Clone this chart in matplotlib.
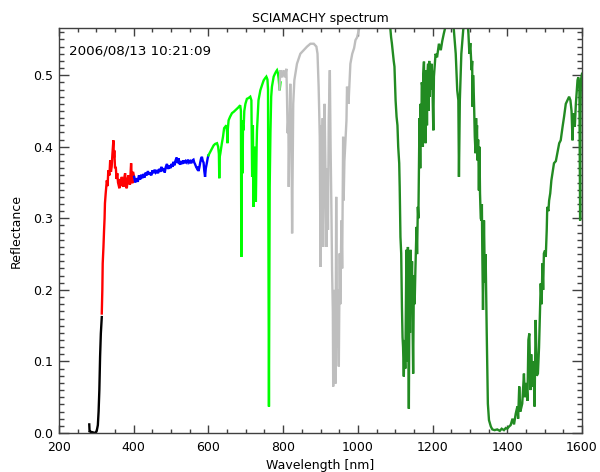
import matplotlib
matplotlib.use("Agg")
import matplotlib.pyplot as plt
from matplotlib.ticker import MultipleLocator, FormatStrFormatter

# ---- data ----
black_wl = [281, 282, 283, 290, 297, 301, 304, 306, 308, 310, 312, 314.5]
black_rf = [0.012, 0.001, 0.002, 0.001, 0.0, 0.003, 0.011, 0.03, 0.06, 0.107, 0.139, 0.162]

red_wl = [314.5, 316, 317, 319, 320.6, 322, 323, 325, 328, 330,
          332, 335, 337, 339, 341, 343, 345.6, 347, 348, 350,
          352, 354, 356, 358, 361.7, 364, 366, 368, 370, 372,
          374, 377, 379, 381.5, 384, 386, 388, 390, 393, 395,
          396.5, 398, 401]
red_rf = [0.167, 0.2, 0.237, 0.26, 0.283, 0.3, 0.321, 0.335, 0.353, 0.345,
          0.367, 0.36, 0.381, 0.365, 0.372, 0.39, 0.409, 0.385, 0.395, 0.37,
          0.372, 0.355, 0.363, 0.35, 0.342, 0.355, 0.345, 0.358, 0.35, 0.344,
          0.355, 0.363, 0.345, 0.342, 0.356, 0.36, 0.35, 0.347, 0.377, 0.355,
          0.349, 0.365, 0.358]

blue_wl = [401, 404, 408, 411, 414, 417, 420, 423, 426, 429,
           432, 435, 438, 441, 444, 447, 450, 453, 456, 459,
           462, 465, 468, 471, 474, 477, 480, 483, 486, 489,
           492, 495, 498, 501, 504, 506, 509, 512, 515, 518,
           520, 522, 524, 527, 530, 533, 536, 539, 542, 545,
           548, 551, 554, 557, 560, 562, 564, 567, 569, 571,
           573.5, 576, 578, 580, 582.5, 585, 587, 589, 591, 593,
           596, 598, 600]
blue_rf = [0.358, 0.350, 0.356, 0.351, 0.360, 0.354, 0.361, 0.356, 0.362, 0.357,
           0.364, 0.360, 0.366, 0.361, 0.364, 0.360, 0.367, 0.363, 0.368, 0.364,
           0.366, 0.363, 0.369, 0.365, 0.372, 0.366, 0.370, 0.364, 0.372, 0.376,
           0.369, 0.374, 0.370, 0.376, 0.372, 0.379, 0.374, 0.381, 0.385, 0.377,
           0.384, 0.378, 0.375, 0.380, 0.376, 0.381, 0.377, 0.380, 0.378, 0.382,
           0.378, 0.380, 0.377, 0.381, 0.382, 0.378, 0.376, 0.372, 0.370, 0.372,
           0.366, 0.372, 0.378, 0.383, 0.386, 0.380, 0.378, 0.366, 0.358, 0.370,
           0.378, 0.384, 0.388]

lime_wl = [600, 605, 610, 614, 618, 623, 626, 628, 629, 630,
           632, 636, 639, 642, 645, 648, 650, 651, 652, 654,
           658, 663, 668, 672, 676, 680, 685, 687, 688, 689,
           690.6, 691.5, 692.5, 694, 696, 699, 703, 707, 712, 715,
           717, 719, 721, 723, 725, 727, 729, 730, 734, 739,
           744, 748, 752, 755, 758, 759.5, 761, 762, 763, 764,
           766, 768, 770, 774.6, 778, 781, 783.6, 786, 788, 790.6,
           793]
lime_rf = [0.388, 0.393, 0.398, 0.402, 0.404, 0.405, 0.400, 0.390, 0.356, 0.385,
           0.391, 0.405, 0.414, 0.426, 0.428, 0.430, 0.420, 0.405, 0.425, 0.437,
           0.442, 0.447, 0.449, 0.451, 0.453, 0.455, 0.458, 0.450, 0.246, 0.400,
           0.437, 0.363, 0.430, 0.423, 0.450, 0.460, 0.467, 0.468, 0.470, 0.465,
           0.358, 0.430, 0.316, 0.400, 0.370, 0.323, 0.400, 0.423, 0.465, 0.479,
           0.487, 0.493, 0.496, 0.498, 0.494, 0.480, 0.200, 0.037, 0.200, 0.344,
           0.420, 0.470, 0.484, 0.498, 0.502, 0.505, 0.507, 0.503, 0.495, 0.479,
           0.490]

gray_wl = [790, 792.5, 797, 801, 805, 808.6, 810, 812, 814, 815,
           817, 819, 821, 822.5, 824, 826, 827, 830, 837, 846,
           855, 864, 873, 882, 889, 892, 895, 896.5, 898, 900,
           902, 904, 906, 907, 909, 911, 913, 916, 918, 920,
           922, 925, 927, 929, 931, 933, 934, 935.6, 937, 938,
           940, 942, 944.5, 946, 947, 949, 951.5, 953, 956, 958,
           960.6, 962, 964, 966, 969.5, 971, 975, 980, 985, 990,
           993.6, 998, 1002.5, 1008, 1015]
gray_rf = [0.480, 0.507, 0.497, 0.507, 0.497, 0.509, 0.480, 0.419, 0.440, 0.344,
           0.430, 0.488, 0.440, 0.400, 0.279, 0.400, 0.460, 0.493, 0.516, 0.530,
           0.535, 0.540, 0.544, 0.544, 0.540, 0.530, 0.484, 0.450, 0.414, 0.232,
           0.430, 0.344, 0.440, 0.260, 0.400, 0.460, 0.380, 0.260, 0.370, 0.284,
           0.437, 0.507, 0.400, 0.321, 0.228, 0.170, 0.065, 0.181, 0.120, 0.200,
           0.069, 0.330, 0.120, 0.200, 0.150, 0.093, 0.251, 0.180, 0.297, 0.230,
           0.414, 0.325, 0.380, 0.400, 0.437, 0.484, 0.460, 0.516, 0.530, 0.538,
           0.549, 0.553, 0.563, 0.575, 0.590]

fg_wl = [1000, 1040, 1080, 1087, 1089, 1091, 1094, 1096, 1098, 1101,
         1103.6, 1106, 1108, 1110.7, 1112, 1114, 1116, 1118, 1119.6, 1121,
         1123, 1125, 1127, 1128.5, 1130, 1132, 1134, 1136.5, 1138, 1139.5,
         1141, 1143, 1145, 1146.5, 1148, 1150, 1152, 1154, 1157, 1158.5,
         1160.6, 1162, 1163.6, 1165, 1166, 1167, 1168, 1170, 1171, 1172.6,
         1174, 1175, 1177, 1178, 1179, 1181, 1182, 1184, 1185, 1186,
         1188, 1189, 1191, 1192, 1194, 1195, 1197, 1199, 1202, 1203.6,
         1208, 1212, 1217, 1222, 1226, 1230, 1240, 1250, 1257, 1262,
         1266, 1269, 1270.6, 1273, 1277, 1282, 1290, 1296, 1298.5, 1301,
         1304.6, 1306, 1307, 1308.5, 1310, 1311.5, 1313, 1315, 1316.5, 1317.7,
         1319, 1320, 1322, 1323, 1324, 1325.5, 1327, 1329, 1330.7, 1332,
         1333, 1335, 1336.5, 1337.6, 1339, 1340, 1342, 1345, 1348, 1351,
         1356, 1360, 1366, 1373, 1380, 1385, 1391, 1396, 1400, 1404.6,
         1409, 1414, 1418, 1422.6, 1427, 1429, 1432, 1435, 1440, 1444.6,
         1447, 1451, 1454, 1456.5, 1459, 1462, 1464, 1467, 1470, 1473,
         1476, 1479, 1482, 1485, 1489.5, 1492, 1494, 1496, 1498, 1501,
         1503, 1505.6, 1507, 1510, 1512, 1515, 1518, 1521, 1525, 1530,
         1534, 1539, 1543, 1548, 1552, 1556.6, 1561, 1565.5, 1569, 1572,
         1574.6, 1577, 1580.7, 1583.6, 1588, 1590, 1593, 1594, 1595, 1596,
         1597, 1600]
fg_rf = [0.600, 0.650, 0.600, 0.565, 0.553, 0.545, 0.530, 0.520, 0.512, 0.465,
         0.442, 0.430, 0.400, 0.377, 0.344, 0.274, 0.251, 0.176, 0.134, 0.120,
         0.079, 0.130, 0.090, 0.180, 0.256, 0.100, 0.260, 0.034, 0.190, 0.140,
         0.256, 0.190, 0.240, 0.150, 0.083, 0.220, 0.180, 0.228, 0.288, 0.250,
         0.316, 0.300, 0.372, 0.440, 0.433, 0.370, 0.460, 0.400, 0.490, 0.484,
         0.400, 0.500, 0.519, 0.440, 0.500, 0.405, 0.490, 0.507, 0.430, 0.500,
         0.516, 0.450, 0.520, 0.470, 0.510, 0.480, 0.516, 0.500, 0.423, 0.498,
         0.530, 0.525, 0.544, 0.535, 0.548, 0.558, 0.580, 0.590, 0.563, 0.530,
         0.479, 0.465, 0.358, 0.465, 0.530, 0.563, 0.600, 0.558, 0.530, 0.545,
         0.507, 0.520, 0.456, 0.500, 0.480, 0.450, 0.414, 0.391, 0.440, 0.414,
         0.430, 0.381, 0.410, 0.380, 0.339, 0.400, 0.335, 0.300, 0.297, 0.320,
         0.260, 0.172, 0.250, 0.297, 0.240, 0.210, 0.250, 0.139, 0.041, 0.018,
         0.009, 0.005, 0.004, 0.005, 0.003, 0.006, 0.004, 0.007, 0.006, 0.009,
         0.011, 0.020, 0.012, 0.027, 0.037, 0.020, 0.065, 0.030, 0.041, 0.083,
         0.050, 0.070, 0.045, 0.130, 0.139, 0.060, 0.110, 0.065, 0.100, 0.037,
         0.158, 0.080, 0.083, 0.120, 0.209, 0.180, 0.237, 0.200, 0.251, 0.255,
         0.246, 0.284, 0.316, 0.310, 0.325, 0.335, 0.353, 0.363, 0.377, 0.380,
         0.391, 0.405, 0.409, 0.428, 0.442, 0.460, 0.465, 0.470, 0.465, 0.450,
         0.409, 0.447, 0.428, 0.460, 0.493, 0.497, 0.484, 0.400, 0.297, 0.450,
         0.493, 0.502]

segments = [
    (black_wl, black_rf, "black"),
    (red_wl, red_rf, "#ff0000"),
    (blue_wl, blue_rf, "#0000ff"),
    (lime_wl, lime_rf, "#00ff00"),
    (gray_wl, gray_rf, "#bebebe"),
    (fg_wl, fg_rf, "#228b22"),
]

title = "SCIAMACHY spectrum"
timestamp = "2006/08/13 10:21:09"
xlabel = "Wavelength [nm]"
ylabel = "Reflectance"

# ---- figure ----
fig = plt.figure(figsize=(6.0, 4.72), dpi=100)
ax = fig.add_axes([59/600, 1-433/472, (582-59)/600, (433-28)/472])

for wl, rf, col in segments:
    ax.plot(wl, rf, color=col, lw=1.7, solid_joinstyle="miter")

ax.set_xlim(200, 1600)
ax.set_ylim(0.0, 0.566)

ax.xaxis.set_major_locator(MultipleLocator(200))
ax.xaxis.set_minor_locator(MultipleLocator(50))
ax.yaxis.set_major_locator(MultipleLocator(0.1))
ax.yaxis.set_minor_locator(MultipleLocator(0.01))
ax.yaxis.set_major_formatter(FormatStrFormatter("%.1f"))

axcol = "#404040"
for s in ax.spines.values():
    s.set_color(axcol)
    s.set_linewidth(1.0)
ax.tick_params(axis="both", which="both", direction="in", top=True, right=True,
               color=axcol, labelsize=9, labelcolor="black")
ax.tick_params(axis="x", which="major", length=5.8, width=1.0, pad=6)
ax.tick_params(axis="x", which="minor", length=2.9, width=1.0)
ax.tick_params(axis="y", which="major", length=7.2, width=1.0, pad=4)
ax.tick_params(axis="y", which="minor", length=3.6, width=1.0)

ax.set_title(title, fontsize=9, pad=4)
ax.set_xlabel(xlabel, fontsize=9, labelpad=3)
ax.set_ylabel(ylabel, fontsize=9, labelpad=8)
ax.text(69/600, 1-51/472, timestamp, transform=fig.transFigure,
        fontsize=9.7, ha="left", va="center")

fig.savefig("out.png", dpi=100)
